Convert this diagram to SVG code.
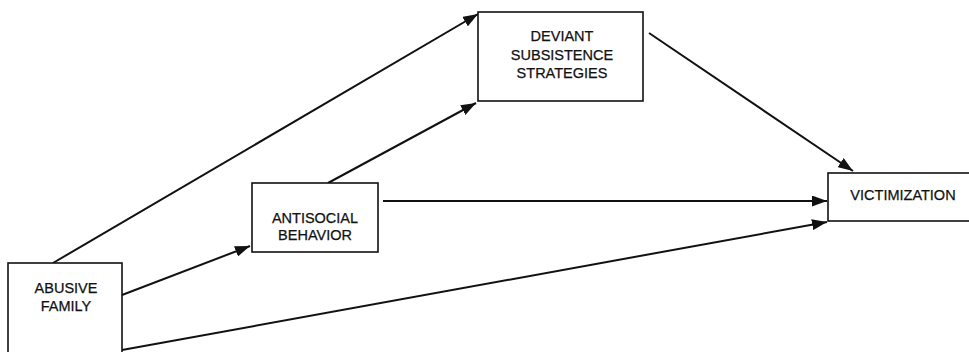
<svg xmlns="http://www.w3.org/2000/svg" width="969" height="352" viewBox="0 0 969 352">
<style>
.box{fill:#fff;stroke:#111;stroke-width:1.6}
.t{font-family:"Liberation Sans",Arial,sans-serif;font-size:14.5px;fill:#111;text-anchor:middle;stroke:#111;stroke-width:0.25}
.c{stroke:#111;stroke-width:2;fill:none;marker-end:url(#ah)}
</style>
<defs>
<marker id="ah" viewBox="0 0 15 11" refX="15" refY="5.5" markerWidth="15" markerHeight="11" markerUnits="userSpaceOnUse" orient="auto">
<path d="M0,0 L15,5.5 L0,11 z" fill="#111"/>
</marker>
</defs>
<rect width="969" height="352" fill="#fff"/>
<g id="connectors">
<line class="c" x1="53" y1="263" x2="478" y2="14"/>
<line class="c" x1="122" y1="295" x2="250" y2="246"/>
<line class="c" x1="122" y1="350" x2="827" y2="222"/>
<line class="c" x1="328" y1="183" x2="476" y2="103"/>
<line class="c" x1="383" y1="201" x2="827" y2="201"/>
<line class="c" x1="649" y1="33" x2="853" y2="171"/>
</g>
<g id="abusive-family">
<rect class="box" x="8" y="263" width="114" height="100"/>
<text class="t" x="66" y="293">ABUSIVE</text>
<text class="t" x="66" y="311">FAMILY</text>
</g>
<g id="antisocial-behavior">
<rect class="box" x="252" y="183" width="126" height="69"/>
<text class="t" x="315" y="223">ANTISOCIAL</text>
<text class="t" x="315" y="240">BEHAVIOR</text>
</g>
<g id="deviant-subsistence">
<rect class="box" x="478" y="12" width="165" height="89"/>
<text class="t" x="562" y="41">DEVIANT</text>
<text class="t" x="562" y="60">SUBSISTENCE</text>
<text class="t" x="562" y="78">STRATEGIES</text>
</g>
<g id="victimization">
<rect class="box" x="828" y="173" width="150" height="48"/>
<text class="t" x="903" y="200">VICTIMIZATION</text>
</g>
</svg>
